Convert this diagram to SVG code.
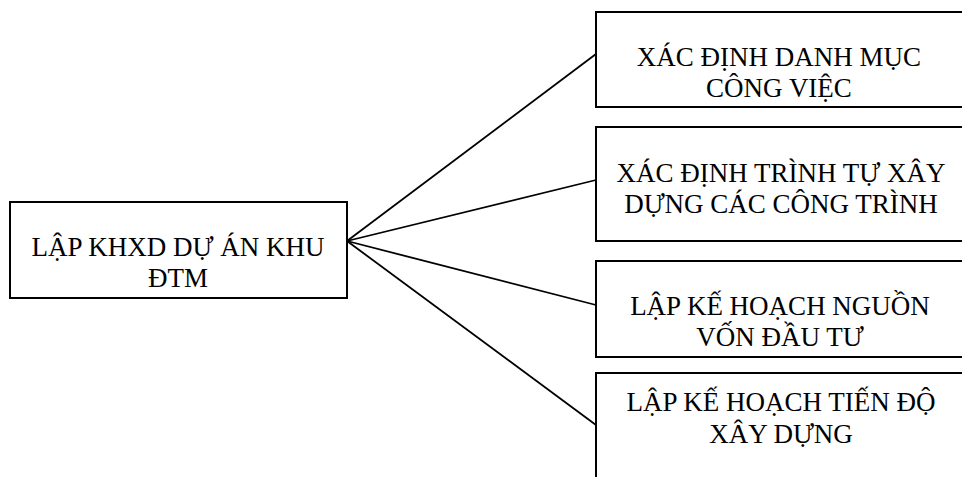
<svg xmlns="http://www.w3.org/2000/svg" width="962" height="477" viewBox="0 0 962 477">
<style>
.box{fill:#fff;stroke:#000;stroke-width:2}
.t{font-family:"Liberation Serif","Times New Roman",serif;font-size:27px;fill:#000;text-anchor:middle}
.c{stroke:#000;stroke-width:1.8;fill:none}
</style>
<rect width="962" height="477" fill="#fff"/>
<g id="connectors">
<line class="c" x1="347" y1="241" x2="596" y2="54"/>
<line class="c" x1="347" y1="241" x2="596" y2="180"/>
<line class="c" x1="347" y1="241" x2="596" y2="305"/>
<line class="c" x1="347" y1="241" x2="596" y2="425"/>
</g>
<g id="n0">
<rect class="box" x="10" y="202" width="337" height="96"/>
<text class="t" x="178" y="256">LẬP KHXD DỰ ÁN KHU</text>
<text class="t" x="178" y="287">ĐTM</text>
</g>
<g id="n1">
<rect class="box" x="596" y="12" width="370" height="95"/>
<text class="t" x="779" y="66">XÁC ĐỊNH DANH MỤC</text>
<text class="t" x="779" y="97">CÔNG VIỆC</text>
</g>
<g id="n2">
<rect class="box" x="596" y="127" width="370" height="114"/>
<text class="t" x="781" y="182">XÁC ĐỊNH TRÌNH TỰ XÂY</text>
<text class="t" x="781" y="213">DỰNG CÁC CÔNG TRÌNH</text>
</g>
<g id="n3">
<rect class="box" x="596" y="261" width="370" height="96"/>
<text class="t" x="780" y="315">LẬP KẾ HOẠCH NGUỒN</text>
<text class="t" x="780" y="346">VỐN ĐẦU TƯ</text>
</g>
<g id="n4">
<rect class="box" x="596" y="373" width="370" height="120"/>
<text class="t" x="781" y="411">LẬP KẾ HOẠCH TIẾN ĐỘ</text>
<text class="t" x="781" y="443">XÂY DỰNG</text>
</g>
</svg>
